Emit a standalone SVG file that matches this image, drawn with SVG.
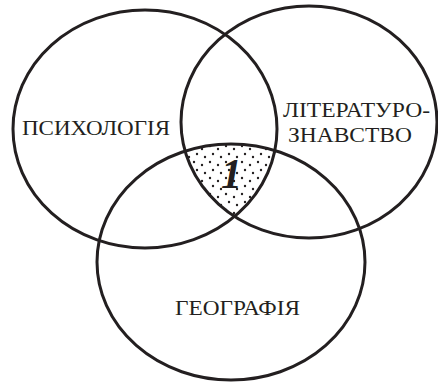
<svg xmlns="http://www.w3.org/2000/svg" width="438" height="383" viewBox="0 0 438 383">
<style>
.c{fill:none;stroke:#231f20;stroke-width:3}
.t{font-family:"Liberation Serif","DejaVu Serif","Times New Roman",serif;font-size:21px;fill:#231f20}
.n{font-family:"Liberation Serif","DejaVu Serif","Times New Roman",serif;font-size:42px;font-style:italic;font-weight:bold;fill:#231f20}
</style>
<defs>
<pattern id="dots" width="16" height="16" patternUnits="userSpaceOnUse">
<circle cx="2" cy="2" r="1.2" fill="#231f20"/>
<circle cx="10" cy="5" r="1.2" fill="#231f20"/>
<circle cx="5" cy="10" r="1.2" fill="#231f20"/>
<circle cx="13" cy="13" r="1.2" fill="#231f20"/>
</pattern>
<clipPath id="cl"><ellipse cx="145" cy="129" rx="132" ry="119"/></clipPath>
<clipPath id="cr"><ellipse cx="309" cy="122" rx="128" ry="116"/></clipPath>
<clipPath id="cb"><ellipse cx="231" cy="262" rx="134" ry="118"/></clipPath>
</defs>
<rect width="438" height="383" fill="#fff"/>
<g id="shade" clip-path="url(#cl)"><g clip-path="url(#cr)"><rect x="0" y="0" width="438" height="383" fill="url(#dots)" clip-path="url(#cb)"/></g></g>
<g id="connectors"></g>
<g id="psychology"><ellipse class="c" cx="145" cy="129" rx="132" ry="119"/><text class="t" x="22" y="135" textLength="148" lengthAdjust="spacingAndGlyphs">ПСИХОЛОГІЯ</text></g>
<g id="literature"><ellipse class="c" cx="309" cy="122" rx="128" ry="116"/><text class="t" x="283" y="117" textLength="147" lengthAdjust="spacingAndGlyphs">ЛІТЕРАТУРО-</text><text class="t" x="288" y="142" textLength="124" lengthAdjust="spacingAndGlyphs">ЗНАВСТВО</text></g>
<g id="geography"><ellipse class="c" cx="231" cy="262" rx="134" ry="118"/><text class="t" x="175" y="315" textLength="125" lengthAdjust="spacingAndGlyphs">ГЕОГРАФІЯ</text></g>
<g id="center"><text class="n" x="221" y="188">1</text></g>
</svg>
